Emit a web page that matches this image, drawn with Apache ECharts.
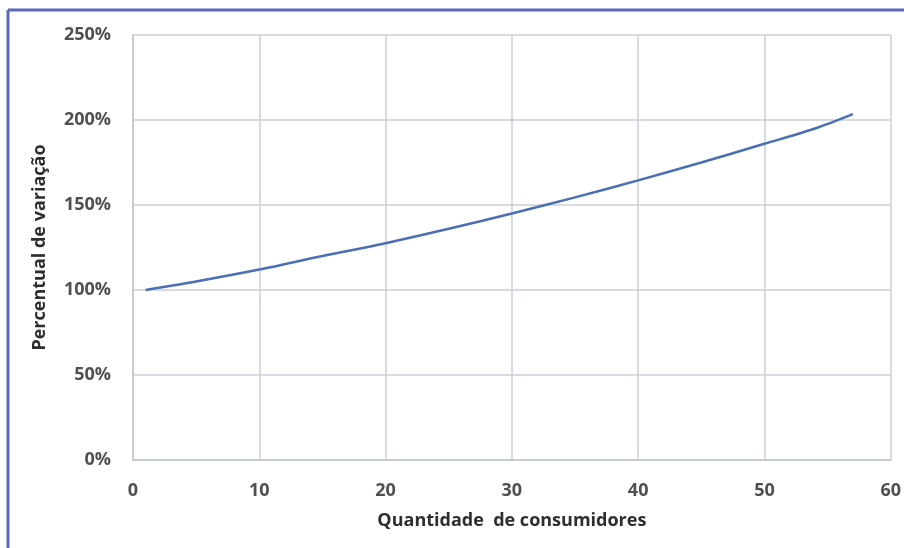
<!DOCTYPE html>
<html>
<head>
<meta charset="utf-8">
<script src="https://cdn.jsdelivr.net/npm/echarts@6/dist/echarts.min.js"></script>
<style>
  html, body { margin: 0; padding: 0; background: #fff; }
  #main { width: 904px; height: 548px; }
</style>
</head>
<body>
<div id="main"></div>
<script>
// values
const consumidores = [1, 5, 10, 15, 20, 25, 30, 35, 40, 45, 50, 54, 57];
const variacao = [100, 105, 112, 120, 127.5, 136, 145, 154.5, 164.5, 175, 186, 195, 203.5];

const chart = echarts.init(document.getElementById('main'));
const labelFont = { color: '#505050', fontSize: 18, fontWeight: 'bold', fontFamily: 'Open Sans' };
const nameFont = { color: '#2e2e2e', fontSize: 18, fontWeight: 'bold', fontFamily: 'Open Sans' };

const option = {
  backgroundColor: '#fff',
  animation: false,
  graphic: [
    { type: 'line', shape: { x1: 8, y1: 10, x2: 904, y2: 10 }, style: { stroke: '#5a68b8', lineWidth: 3 } },
    { type: 'line', shape: { x1: 8, y1: 10, x2: 8, y2: 548 }, style: { stroke: '#5a68b8', lineWidth: 3 } }
  ],
  grid: { left: 133, right: 10, top: 35, bottom: 88 },
  xAxis: {
    type: 'value',
    min: 0, max: 60, interval: 10,
    name: 'Quantidade  de consumidores',
    nameLocation: 'middle',
    nameGap: 52,
    nameTextStyle: nameFont,
    axisLine: { show: true, lineStyle: { color: '#c4ccd4', width: 2 } },
    axisTick: { show: false },
    axisLabel: Object.assign({ margin: 22 }, labelFont),
    splitLine: { show: true, lineStyle: { color: '#c9d1d8', width: 1.5 } }
  },
  yAxis: {
    type: 'value',
    min: 0, max: 250, interval: 50,
    name: 'Percentual de variação',
    nameLocation: 'middle',
    nameGap: 84,
    nameTextStyle: nameFont,
    axisLine: { show: true, lineStyle: { color: '#c4ccd4', width: 2 } },
    axisTick: { show: false },
    axisLabel: Object.assign({ margin: 22, formatter: '{value}%' }, labelFont),
    splitLine: { show: true, lineStyle: { color: '#c9d1d8', width: 1.5 } }
  },
  series: [{
    type: 'line',
    data: consumidores.map((x, i) => [x, variacao[i]]),
    smooth: 0.3,
    showSymbol: false,
    lineStyle: { color: '#4a6fb5', width: 2.5 }
  }]
};

chart.setOption(option);
</script>
</body>
</html>
